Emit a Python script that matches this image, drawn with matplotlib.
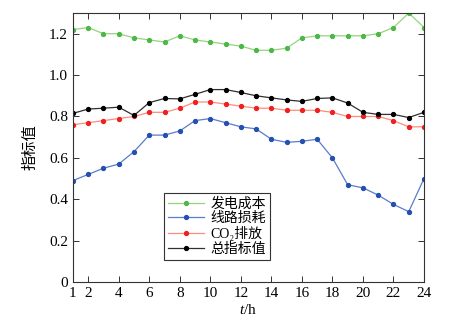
import numpy as np
import matplotlib.pyplot as plt

plt.rcParams['font.family'] = ['Liberation Serif', 'Noto Sans CJK SC']
plt.rcParams['mathtext.fontset'] = 'custom'
plt.rcParams['mathtext.rm'] = 'Liberation Serif'
plt.rcParams['mathtext.it'] = 'Liberation Serif:italic'

hours = np.arange(1, 25)

# 各时段指标值
gen_cost = [1.22, 1.23, 1.20, 1.20, 1.18, 1.17, 1.16, 1.19, 1.17, 1.16, 1.15, 1.14,
            1.12, 1.12, 1.13, 1.18, 1.19, 1.19, 1.19, 1.19, 1.20, 1.23, 1.30, 1.23]
line_loss = [0.49, 0.52, 0.55, 0.57, 0.63, 0.71, 0.71, 0.73, 0.78, 0.79, 0.77, 0.75,
             0.74, 0.69, 0.675, 0.68, 0.69, 0.60, 0.47, 0.455, 0.42, 0.375, 0.34, 0.50]
co2 = [0.76, 0.77, 0.78, 0.79, 0.80, 0.82, 0.82, 0.84, 0.87, 0.87, 0.86, 0.85,
       0.84, 0.84, 0.83, 0.83, 0.83, 0.82, 0.80, 0.80, 0.80, 0.78, 0.75, 0.75]
total = [0.815, 0.836, 0.84, 0.845, 0.805, 0.867, 0.887, 0.885, 0.907, 0.93, 0.93, 0.916,
         0.90, 0.89, 0.88, 0.873, 0.887, 0.89, 0.865, 0.82, 0.81, 0.81, 0.795, 0.82]

fig = plt.figure(figsize=(4.53, 3.26), dpi=100)
ax = fig.add_axes([0.161, 0.135, 0.775, 0.825])

ax.plot(hours, gen_cost, color='#95d47c', lw=0.9, marker='o', ms=2.8,
        mfc='#4cb848', mec='#4cb848', label='发电成本')
ax.plot(hours, line_loss, color='#5b7ccc', lw=0.9, marker='o', ms=2.8,
        mfc='#2450b0', mec='#2450b0', label='线路损耗')
ax.plot(hours, co2, color='#ff8c7c', lw=0.9, marker='o', ms=2.8,
        mfc='#f02020', mec='#f02020', label='CO\u2082排放')
ax.plot(hours, total, color='#303030', lw=0.9, marker='o', ms=2.8,
        mfc='black', mec='black', label='总指标值')

ax.set_xlim(1, 24)
ax.set_ylim(0, 1.3)
ax.set_xticks([1, 2, 4, 6, 8, 10, 12, 14, 16, 18, 20, 22, 24])
ax.set_yticks(np.arange(0, 1.3, 0.2))
ax.set_yticklabels(['0', '0.2', '0.4', '0.6', '0.8', '1.0', '1.2'])
ax.tick_params(direction='in', top=True, right=True, length=4, width=0.7,
               labelsize=11, color='#333333')
for s in ax.spines.values():
    s.set_linewidth(0.8)
    s.set_color('#333333')

ax.set_xlabel('$t$/h', fontsize=11, labelpad=2)
ax.set_ylabel('指标值', fontsize=11, labelpad=8)

leg = ax.legend(loc='lower left', bbox_to_anchor=(0.258, 0.082), fontsize=10,
                fancybox=False, framealpha=1, edgecolor='#333333',
                handlelength=2.6, handletextpad=0.5, borderpad=0.3,
                labelspacing=0.1, borderaxespad=0)
leg.get_frame().set_linewidth(0.8)

fig.savefig('out.png', dpi=100)
